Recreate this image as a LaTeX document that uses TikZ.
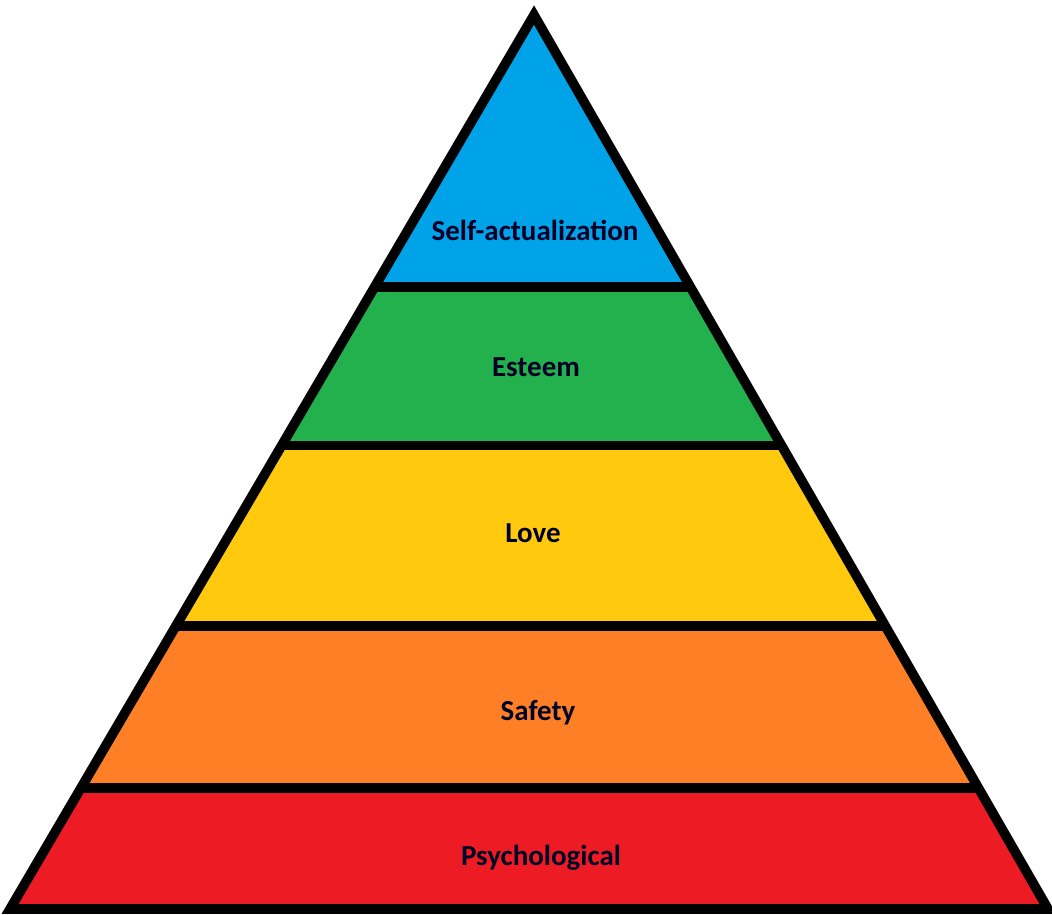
\documentclass[tikz,border=0pt]{standalone}
\usepackage{fontspec}
\setmainfont{Carlito}
\usetikzlibrary{calc}
\definecolor{selfblue}{RGB}{0,162,232}
\definecolor{esteemgreen}{RGB}{34,177,76}
\definecolor{loveyellow}{RGB}{255,201,14}
\definecolor{safetyorange}{RGB}{255,127,39}
\definecolor{psychred}{RGB}{237,28,36}
\begin{document}
\begin{tikzpicture}[x=0.02cm,y=-0.02cm,
  edge/.style={draw=black,line width=5.5pt,line join=miter},
  lbl/.style={font=\bfseries\fontsize{16.5}{19}\selectfont,text=black!85!blue}]
  \useasboundingbox (0,0) rectangle (1052,914);
  \coordinate (top) at (534,15);
  \coordinate (bl) at (10,909);
  \coordinate (br) at (1048,909);
  % layers, top to bottom
  \fill[selfblue] (top) -- ($(top)!0.3046!(bl)$) -- ($(top)!0.3046!(br)$) -- cycle;
  \foreach \a/\b/\c in {0.3046/0.4815/esteemgreen,0.4815/0.6831/loveyellow,
      0.6831/0.8645/safetyorange,0.8645/1/psychred}
    \fill[\c] ($(top)!\a!(bl)$) -- ($(top)!\b!(bl)$) -- ($(top)!\b!(br)$) -- ($(top)!\a!(br)$) -- cycle;
  \foreach \t in {0.3046,0.4815,0.6831,0.8645}
    \draw[edge] ($(top)!\t!(bl)$) -- ($(top)!\t!(br)$);
  \draw[edge] (top) -- (bl) -- (br) -- cycle;
  % labels
  \node[lbl] (selfact) at (535,230) {Self-actualization};
  \node[lbl] (esteem) at (536,367) {Esteem};
  \node[lbl] (love) at (533,533) {Love};
  \node[lbl] (safety) at (538,713) {Safety};
  \node[lbl] (psych) at (541,858) {Psychological};
\end{tikzpicture}
\end{document}
